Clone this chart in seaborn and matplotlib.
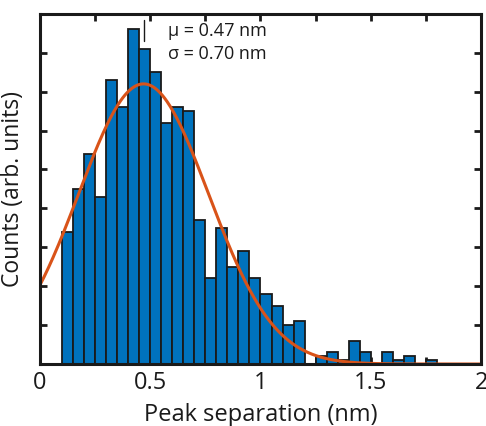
import numpy as np
import pandas as pd
import matplotlib
matplotlib.use("Agg")
import matplotlib.pyplot as plt
import seaborn as sns

# histogram bin edges (nm) and counts
bin_left = np.round(np.arange(0.10, 1.80, 0.05), 2)
bin_width = 0.05
counts = [34, 45, 54, 43, 73, 66, 86, 81, 75, 62, 66, 65,
          37, 22, 35, 25, 29, 22, 18, 15, 10, 11, 0, 2,
          3, 1, 6, 3, 0, 3, 1, 2, 0, 1]

# gaussian fit parameters
mu = 0.47
sigma_fit = 0.295
amplitude = 72

label_mu = "\u03bc = 0.47 nm"
label_sigma = "\u03c3 = 0.70 nm"

sns.set_theme(style="white")
plt.rcParams['font.family'] = ['Open Sans', 'DejaVu Sans']

fig = plt.figure(figsize=(4.86, 4.26), dpi=100)
ax = fig.add_axes([0.082, 0.1455, 0.908, 0.822])

df = pd.DataFrame({"center": bin_left + bin_width / 2, "count": counts})
edges = [float(e) for e in np.append(bin_left, bin_left[-1] + bin_width)]
sns.histplot(data=df, x="center", weights="count", bins=edges, ax=ax,
             color="#0072BD", alpha=1, edgecolor="#1a1a1a", linewidth=1.3)

xs = np.linspace(0, 2, 400)
fit = pd.DataFrame({"x": xs, "y": amplitude * np.exp(-(xs - mu) ** 2 / (2 * sigma_fit ** 2))})
sns.lineplot(data=fit, x="x", y="y", ax=ax, color="#D95319", linewidth=2.2)

# mean marker
ax.plot([mu, mu], [83, 88.5], color="#1a1a1a", linewidth=1.0)
ax.text(0.58, 85.6, label_mu, fontsize=13, va="center", ha="left", color="#1a1a1a")
ax.text(0.58, 79.6, label_sigma, fontsize=13, va="center", ha="left", color="#1a1a1a")

ax.set_xlim(0, 2)
ax.set_ylim(0, 90)
ax.set_xticks(np.arange(0, 2.01, 0.25))
ax.set_xticklabels(["0", "", "0.5", "", "1", "", "1.5", "", "2"], fontsize=17)
ax.set_yticks(np.arange(0, 91, 10))
ax.set_yticklabels([])
ax.tick_params(direction="in", length=5, width=2, color="#1a1a1a",
               top=True, right=True, bottom=True, left=True, pad=5,
               labelcolor="#1a1a1a")
for sp in ax.spines.values():
    sp.set_linewidth(2.2)
    sp.set_color("#1a1a1a")
    sp.set_visible(True)

ax.set_xlabel("Peak separation (nm)", fontsize=17, color="#1a1a1a", labelpad=6)
ax.set_ylabel("Counts (arb. units)", fontsize=16.5, color="#1a1a1a", labelpad=5.5)

fig.savefig("out.png", dpi=100)
